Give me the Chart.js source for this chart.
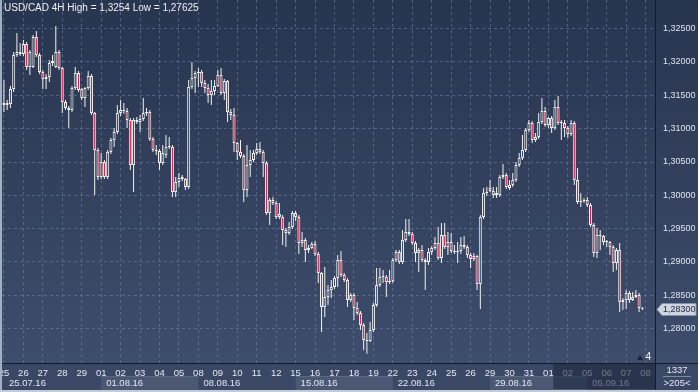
<!DOCTYPE html>
<html>
<head>
<meta charset="utf-8">
<title>USD/CAD 4H</title>
<script src="https://cdn.jsdelivr.net/npm/chart.js@4.4.1/dist/chart.umd.min.js"></script>
<style>
  html, body { margin: 0; padding: 0; background: #33415e; }
  canvas { display: block; }
</style>
</head>
<body>
<canvas id="chart" width="698" height="392"></canvas>
<script>
// day ticks (6 four-hour bars per day) and week captions
const dayLabels = ['25','26','27','28','29','01','02','03','04','05','08','09','10','11','12','15','16','17','18','19',
  '22','23','24','25','26','29','30','31','01','02','05','06','07','08'];
const weekLabels = ['25.07.16','01.08.16','08.08.16','15.08.16','22.08.16','29.08.16','05.09.16'];
const priceTicks = [1.280, 1.285, 1.290, 1.295, 1.300, 1.305, 1.310, 1.315, 1.320, 1.325];
const barsPerDay = 6;

const open = [
  1.31355,1.31385,1.3137,1.31595,1.32105,1.3215,1.3212,1.3227,1.31925,1.31925,
  1.32375,1.32105,1.3185,1.31745,1.31775,1.31985,1.31925,1.3215,1.3191,1.314,
  1.3131,1.3128,1.3161,1.31835,1.31595,1.3146,1.3161,1.3179,1.31235,1.3068,
  1.30275,1.305,1.30275,1.3065,1.3083,1.3095,1.31235,1.3128,1.31265,1.3113,
  1.30455,1.3113,1.311,1.31145,1.31235,1.3125,1.30845,1.3068,1.30665,1.30485,
  1.30605,1.30725,1.30725,1.3005,1.302,1.30275,1.30245,1.30125,1.31625,1.3176,
  1.31835,1.3185,1.31685,1.3161,1.31505,1.31565,1.3164,1.31805,1.31535,1.31715,
  1.3125,1.31205,1.30785,1.3065,1.3059,1.3008,1.30455,1.3053,1.30635,1.30695,
  1.3065,1.30485,1.29735,1.2993,1.29885,1.2972,1.29675,1.2948,1.29435,1.29525,
  1.29735,1.29675,1.29285,1.2933,1.2918,1.2921,1.2927,1.2912,1.28835,1.28325,
  1.28475,1.2858,1.28625,1.2876,1.2903,1.28805,1.2873,1.2843,1.28505,1.2831,
  1.28235,1.28055,1.2783,1.27815,1.2798,1.28355,1.28655,1.28775,1.28775,1.287,
  1.28715,1.2903,1.2915,1.29,1.2933,1.2945,1.2942,1.29285,1.29135,1.2918,
  1.2903,1.29,1.2915,1.2921,1.29285,1.2906,1.29405,1.29225,1.293,1.29165,
  1.2915,1.29165,1.29255,1.29225,1.29105,1.29045,1.2909,1.2867,1.29675,1.30035,
  1.3011,1.30065,1.30005,1.30005,1.30275,1.30305,1.3011,1.30155,1.3023,1.30455,
  1.3056,1.3068,1.3098,1.31085,1.3083,1.30875,1.311,1.31265,1.31055,1.3116,
  1.3101,1.31325,1.31085,1.31085,1.3101,1.3092,1.31085,1.3023,1.299,1.29915,
  1.2993,1.29855,1.29555,1.29135,1.29405,1.2939,1.293,1.293,1.29225,1.28985,
  1.2918,1.284,1.2843,1.28535,1.2843,1.28475,1.28505,1.2831
];
const high = [
  1.3173,1.3143,1.3164,1.3215,1.32435,1.32285,1.3233,1.323,1.3218,1.32405,
  1.32465,1.32135,1.3188,1.3182,1.3203,1.32105,1.3254,1.3218,1.31925,1.3143,
  1.3134,1.3164,1.31925,1.31865,1.3161,1.31625,1.31865,1.3182,1.3125,1.3071,
  1.30635,1.3053,1.3068,1.3086,1.3101,1.31355,1.3143,1.31385,1.3131,1.3116,
  1.3116,1.31175,1.31205,1.3146,1.3131,1.3128,1.30875,1.30755,1.30695,1.30755,
  1.30905,1.30875,1.30755,1.30275,1.30335,1.30305,1.3026,1.3173,1.32,1.31865,
  1.3191,1.3188,1.3173,1.3167,1.3173,1.3173,1.3188,1.3191,1.31745,1.3173,
  1.31295,1.3131,1.308,1.3083,1.3062,1.30755,1.3068,1.3068,1.30785,1.308,
  1.3068,1.30515,1.2996,1.29975,1.29915,1.29885,1.29705,1.2951,1.296,1.29765,
  1.29765,1.29705,1.2945,1.2936,1.29255,1.293,1.29315,1.2915,1.2885,1.28925,
  1.28655,1.2873,1.2879,1.29105,1.29165,1.28835,1.2876,1.28535,1.28535,1.284,
  1.28265,1.28085,1.27935,1.281,1.28385,1.2891,1.2891,1.2888,1.28805,1.2888,
  1.2906,1.2918,1.2918,1.2948,1.29645,1.29645,1.2945,1.29315,1.2921,1.29255,
  1.2906,1.2921,1.2924,1.29375,1.29525,1.29585,1.29585,1.2945,1.29435,1.29255,
  1.293,1.29375,1.2939,1.29255,1.29135,1.29135,1.29105,1.29705,1.3011,1.30125,
  1.3023,1.30125,1.30125,1.30305,1.3047,1.30335,1.3023,1.30335,1.305,1.30635,
  1.30905,1.3101,1.3113,1.31115,1.30935,1.31235,1.3146,1.31325,1.31175,1.3119,
  1.3143,1.3149,1.3113,1.3113,1.3104,1.3113,1.31115,1.3041,1.30035,1.2996,
  1.29975,1.29885,1.29585,1.2951,1.2948,1.29405,1.2933,1.29315,1.29255,1.2921,
  1.29285,1.2846,1.2858,1.28565,1.2855,1.2858,1.28535,1.28325
];
const low = [
  1.3125,1.3128,1.3131,1.3155,1.32075,1.3209,1.3209,1.3188,1.31805,1.3191,
  1.32075,1.3182,1.31595,1.31595,1.317,1.3194,1.3191,1.3188,1.31235,1.3128,
  1.3101,1.3125,1.3158,1.3155,1.3143,1.31325,1.3158,1.31205,1.30005,1.3023,
  1.30245,1.30245,1.30245,1.3062,1.30725,1.3092,1.3119,1.3122,1.3101,1.3038,
  1.3005,1.3107,1.3095,1.31115,1.3119,1.30815,1.3065,1.30605,1.3038,1.30455,
  1.3056,1.30695,1.29975,1.29975,1.30125,1.30215,1.3008,1.30095,1.31595,1.31535,
  1.31625,1.31625,1.31535,1.31385,1.31355,1.31505,1.31625,1.31505,1.3143,1.311,
  1.3113,1.3065,1.3053,1.3056,1.299,1.29975,1.30275,1.305,1.30605,1.3062,
  1.30275,1.29705,1.29555,1.29855,1.29645,1.29645,1.29255,1.29225,1.29405,1.29495,
  1.29615,1.2912,1.29225,1.29,1.29135,1.29195,1.2909,1.28685,1.2795,1.28175,
  1.28355,1.2846,1.28595,1.28625,1.28775,1.287,1.28325,1.284,1.2813,1.28205,
  1.2798,1.2768,1.27625,1.278,1.2795,1.28325,1.28625,1.28685,1.28475,1.2867,
  1.28685,1.29,1.2897,1.2897,1.293,1.2939,1.29255,1.29,1.2885,1.29,
  1.2858,1.28955,1.29105,1.2918,1.2903,1.28985,1.29195,1.29105,1.29135,1.2912,
  1.28985,1.2912,1.29195,1.2906,1.2891,1.29015,1.2858,1.28295,1.29645,1.2999,
  1.3005,1.2996,1.2996,1.29975,1.30245,1.30095,1.3008,1.30125,1.302,1.30425,
  1.3053,1.3065,1.3095,1.30785,1.308,1.30845,1.3107,1.31025,1.3101,1.30935,
  1.3098,1.31055,1.3083,1.30875,1.3086,1.3089,1.30155,1.2987,1.29825,1.29885,
  1.29825,1.29525,1.29075,1.2906,1.2918,1.29255,1.29225,1.29105,1.2885,1.2888,
  1.2825,1.2828,1.28295,1.28385,1.28415,1.2846,1.2825,1.2828
];
const close = [
  1.31385,1.31355,1.31595,1.32105,1.3215,1.3212,1.3227,1.31925,1.3215,1.32375,
  1.32105,1.3185,1.31745,1.31775,1.31985,1.32015,1.3215,1.3191,1.314,1.3131,
  1.3128,1.3161,1.31835,1.3158,1.3146,1.3161,1.3179,1.31235,1.3068,1.30275,
  1.305,1.30275,1.3065,1.3083,1.3095,1.31235,1.3128,1.31265,1.3113,1.30455,
  1.3113,1.311,1.31145,1.31235,1.3125,1.30845,1.3068,1.30665,1.30485,1.30635,
  1.30725,1.3074,1.3005,1.302,1.3026,1.30245,1.30125,1.31625,1.3176,1.31835,
  1.3185,1.31685,1.3161,1.31505,1.31565,1.3164,1.31805,1.31535,1.31715,1.3125,
  1.31205,1.30785,1.3065,1.3059,1.3008,1.30455,1.3053,1.30635,1.30695,1.3065,
  1.30485,1.29735,1.2993,1.29885,1.29675,1.29675,1.2948,1.29435,1.29525,1.29735,
  1.29675,1.29285,1.2933,1.2918,1.2921,1.2927,1.2912,1.28835,1.28325,1.28475,
  1.2858,1.28625,1.2876,1.2903,1.28805,1.2873,1.2843,1.28505,1.2831,1.28235,
  1.28055,1.2783,1.27815,1.2798,1.28355,1.28655,1.28775,1.2879,1.287,1.28715,
  1.2903,1.2915,1.29,1.2933,1.2945,1.2942,1.29285,1.29135,1.2918,1.2903,
  1.29,1.2915,1.2921,1.29285,1.2906,1.29405,1.29225,1.293,1.29165,1.2915,
  1.29165,1.29255,1.29225,1.29105,1.29045,1.2909,1.2867,1.29675,1.30035,1.3005,
  1.30065,1.30005,1.30035,1.30275,1.30305,1.30125,1.30155,1.3023,1.30455,1.3056,
  1.3068,1.3098,1.31085,1.3083,1.30875,1.311,1.31265,1.31055,1.3116,1.3101,
  1.31325,1.31085,1.311,1.3101,1.3092,1.31085,1.3023,1.299,1.29915,1.2993,
  1.29855,1.29555,1.29135,1.29405,1.2939,1.293,1.29315,1.29225,1.28985,1.2918,
  1.284,1.2843,1.28535,1.2843,1.28475,1.28505,1.2831,1.283
];

const FONT = '"Liberation Sans", Arial, sans-serif';
const fmt = v => v.toFixed(5).replace('.', ',');

const canvas = document.getElementById('chart');
const bg = canvas.getContext('2d').createLinearGradient(0, 0, 0, 363);
bg.addColorStop(0, '#28354f');
bg.addColorStop(1, '#3e4d6c');
const gridColor = 'rgba(112,132,168,0.55)';

const framePlugin = {
  id: 'frame',
  beforeDraw(chart) {
    const { ctx, width, height, chartArea: a, scales: { x } } = chart;
    ctx.save();
    ctx.fillStyle = bg;
    ctx.fillRect(0, 0, width, a.bottom);
    ctx.fillStyle = '#3a4866';
    ctx.fillRect(0, a.bottom, width, height - a.bottom);
    // alternating week boxes
    weekLabels.forEach((w, k) => {
      if (k % 2 === 0) return;
      const x0 = x.getPixelForValue(k * 5 * barsPerDay);
      const x1 = Math.min(x.getPixelForValue((k + 1) * 5 * barsPerDay), a.right);
      ctx.fillStyle = '#4a5874';
      ctx.fillRect(x0, 376, x1 - x0, 14);
      ctx.fillStyle = '#5b6983';
      ctx.fillRect(x0, 376, x1 - x0, 1);
    });
    ctx.restore();
  },
  afterDraw(chart) {
    const { ctx, width, height, chartArea: a, scales: { x, y } } = chart;
    ctx.save();
    ctx.font = '9.5px ' + FONT;
    ctx.textBaseline = 'middle';
    ctx.fillStyle = '#e4e9f1';
    weekLabels.forEach((w, k) => {
      ctx.fillText(w, x.getPixelForValue(k * 5 * barsPerDay) + 5, 383);
    });
    // shaded area at the end of the time axis
    const sx = x.getPixelForValue(169.5);
    ctx.fillStyle = 'rgba(30,40,60,0.6)';
    ctx.fillRect(sx, a.bottom, a.right - sx, 26);

    // separators
    ctx.fillStyle = '#141c2c';
    ctx.fillRect(a.right, 0, 1, height);
    ctx.fillRect(0, a.bottom, width, 1);
    // frame
    ctx.fillStyle = '#a3b0c4';
    ctx.fillRect(0, 0, 2, height);
    ctx.fillStyle = '#c3cbd7';
    ctx.fillRect(0, height - 2, width, 2);

    // bottom-right cell
    ctx.fillStyle = '#e4e9f1';
    ctx.textAlign = 'center';
    ctx.font = '9.5px ' + FONT;
    ctx.fillText('1337', 677, 370);
    ctx.fillText('>205<', 677, 383);
    ctx.fillStyle = '#7d8aa2';
    ctx.fillRect(663, 376, 28, 1);

    // counter marker
    ctx.fillStyle = '#ffffff';
    ctx.textAlign = 'right';
    ctx.font = '10px ' + FONT;
    ctx.fillText('4', 651, 357);
    ctx.fillStyle = '#1c2538';
    ctx.beginPath();
    ctx.moveTo(637, 360); ctx.lineTo(643, 360); ctx.lineTo(640, 355); ctx.closePath();
    ctx.fill();

    // last price label
    const last = close[close.length - 1];
    const py = Math.round(y.getPixelForValue(last)) + 0.5;
    ctx.beginPath();
    ctx.moveTo(657, py);
    ctx.lineTo(662, py - 6);
    ctx.lineTo(696, py - 6);
    ctx.lineTo(696, py + 6);
    ctx.lineTo(662, py + 6);
    ctx.closePath();
    ctx.fillStyle = '#cfd5df';
    ctx.fill();
    ctx.strokeStyle = '#8391a8';
    ctx.lineWidth = 1;
    ctx.stroke();
    ctx.fillStyle = '#1b2540';
    ctx.textAlign = 'left';
    ctx.font = '9px ' + FONT;
    ctx.fillText(fmt(last), 663, py + 0.5);

    // title
    ctx.fillStyle = '#eef1f6';
    ctx.font = '10px ' + FONT;
    ctx.fillText('USD/CAD 4H High = ' + '1,3254' + ' Low = ' + fmt(Math.min(...low)), 4, 8);

    if (open.length !== close.length || high.length !== close.length || low.length !== close.length) {
      ctx.fillStyle = 'yellow';
      ctx.fillText('len ' + open.length + ' ' + high.length + ' ' + low.length + ' ' + close.length, 300, 30);
    }
    ctx.restore();
  }
};

new Chart(canvas, {
  type: 'bar',
  data: {
    datasets: [
      {
        label: 'range',
        data: low.map((l, i) => ({ x: i, y: [l, high[i]] })),
        backgroundColor: '#f2f2f2',
        barThickness: 1,
        inflateAmount: 0,
        grouped: false,
        order: 2
      },
      {
        label: 'body',
        data: open.map((o, i) => ({ x: i, y: [o, close[i]] })),
        backgroundColor: c => close[c.dataIndex] < open[c.dataIndex] ? '#e3143c' : bg,
        borderColor: '#f4f4f4',
        borderWidth: 1,
        borderSkipped: false,
        barThickness: 3,
        minBarLength: 1,
        inflateAmount: 0,
        grouped: false,
        order: 1
      }
    ]
  },
  options: {
    responsive: false,
    animation: false,
    devicePixelRatio: 1,
    layout: { padding: { left: 2, top: 0, right: 0, bottom: 0 } },
    plugins: { legend: { display: false }, tooltip: { enabled: false } },
    scales: {
      x: {
        type: 'linear',
        min: -0.6,
        max: 200.9,
        offset: false,
        grid: { offset: false, color: gridColor, drawTicks: false },
        border: { display: false, dash: [3, 3] },
        afterBuildTicks: s => { s.ticks = dayLabels.map((d, k) => ({ value: k * barsPerDay })); },
        afterFit: s => { s.height = 29; s.paddingLeft = 0; s.paddingRight = 0; },
        ticks: {
          autoSkip: false, maxRotation: 0, padding: 5,
          color: '#e4e9f1', font: { size: 9.5, family: FONT },
          callback: (v, i) => dayLabels[i]
        }
      },
      y: {
        position: 'right',
        min: 1.27485,
        max: 1.3293,
        grid: { color: gridColor, drawTicks: false },
        border: { display: false, dash: [3, 3] },
        afterBuildTicks: s => { s.ticks = priceTicks.map(v => ({ value: v })); },
        afterFit: s => { s.width = 43; s.paddingTop = 0; s.paddingBottom = 0; },
        ticks: {
          padding: 8, color: '#dfe5ee', font: { size: 9, family: FONT },
          callback: v => fmt(v)
        }
      }
    }
  },
  plugins: [framePlugin]
});
</script>
</body>
</html>
